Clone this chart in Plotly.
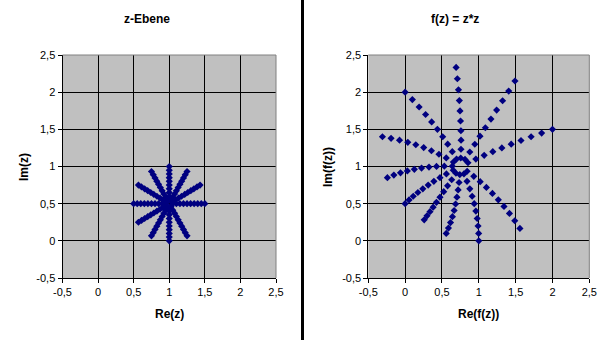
import plotly.graph_objects as go

# ---- data: points of the z-plane star (11 rays, 10 points each) ----
z_re = [1.05, 1.1, 1.15, 1.2, 1.25, 1.3, 1.35, 1.4, 1.45, 1.5,
        1.043, 1.087, 1.130, 1.173, 1.217, 1.260, 1.303, 1.346, 1.390, 1.433,
        1.025, 1.05, 1.075, 1.1, 1.125, 1.15, 1.175, 1.2, 1.225, 1.25,
        1.0, 1.0, 1.0, 1.0, 1.0, 1.0, 1.0, 1.0, 1.0, 1.0,
        0.975, 0.95, 0.925, 0.9, 0.875, 0.85, 0.825, 0.8, 0.775, 0.75,
        0.957, 0.913, 0.870, 0.827, 0.783, 0.740, 0.697, 0.654, 0.610, 0.567,
        0.95, 0.9, 0.85, 0.8, 0.75, 0.7, 0.65, 0.6, 0.55, 0.5,
        0.957, 0.913, 0.870, 0.827, 0.783, 0.740, 0.697, 0.654, 0.610, 0.567,
        0.975, 0.95, 0.925, 0.9, 0.875, 0.85, 0.825, 0.8, 0.775, 0.75,
        1.0, 1.0, 1.0, 1.0, 1.0, 1.0, 1.0, 1.0, 1.0, 1.0,
        1.025, 1.05, 1.075, 1.1, 1.125, 1.15, 1.175, 1.2, 1.225, 1.25]
z_im = [0.5, 0.5, 0.5, 0.5, 0.5, 0.5, 0.5, 0.5, 0.5, 0.5,
        0.525, 0.55, 0.575, 0.6, 0.625, 0.65, 0.675, 0.7, 0.725, 0.75,
        0.543, 0.587, 0.630, 0.673, 0.717, 0.760, 0.803, 0.846, 0.890, 0.933,
        0.55, 0.6, 0.65, 0.7, 0.75, 0.8, 0.85, 0.9, 0.95, 1.0,
        0.543, 0.587, 0.630, 0.673, 0.717, 0.760, 0.803, 0.846, 0.890, 0.933,
        0.525, 0.55, 0.575, 0.6, 0.625, 0.65, 0.675, 0.7, 0.725, 0.75,
        0.5, 0.5, 0.5, 0.5, 0.5, 0.5, 0.5, 0.5, 0.5, 0.5,
        0.475, 0.45, 0.425, 0.4, 0.375, 0.35, 0.325, 0.3, 0.275, 0.25,
        0.457, 0.413, 0.370, 0.327, 0.283, 0.240, 0.197, 0.154, 0.110, 0.067,
        0.45, 0.4, 0.35, 0.3, 0.25, 0.2, 0.15, 0.1, 0.05, 0.0,
        0.457, 0.413, 0.370, 0.327, 0.283, 0.240, 0.197, 0.154, 0.110, 0.067]

# ---- data: image points f(z) = z*z ----
w_re = [0.853, 0.96, 1.073, 1.19, 1.313, 1.44, 1.573, 1.71, 1.853, 2.0,
        0.813, 0.878, 0.946, 1.016, 1.089, 1.165, 1.242, 1.323, 1.406, 1.491,
        0.755, 0.758, 0.759, 0.757, 0.752, 0.745, 0.736, 0.724, 0.709, 0.692,
        0.698, 0.64, 0.578, 0.51, 0.438, 0.36, 0.278, 0.19, 0.098, 0.0,
        0.655, 0.558, 0.459, 0.357, 0.252, 0.145, 0.036, -0.076, -0.191, -0.308,
        0.640, 0.532, 0.426, 0.324, 0.223, 0.125, 0.030, -0.063, -0.153, -0.241,
        0.653, 0.56, 0.473, 0.39, 0.313, 0.24, 0.173, 0.11, 0.053, 0.0,
        0.690, 0.632, 0.576, 0.524, 0.473, 0.425, 0.380, 0.337, 0.297, 0.259,
        0.742, 0.732, 0.719, 0.703, 0.685, 0.665, 0.642, 0.616, 0.588, 0.558,
        0.798, 0.84, 0.878, 0.91, 0.938, 0.96, 0.978, 0.99, 0.998, 1.0,
        0.842, 0.932, 1.019, 1.103, 1.185, 1.265, 1.342, 1.416, 1.488, 1.558]
w_im = [1.05, 1.1, 1.15, 1.2, 1.25, 1.3, 1.35, 1.4, 1.45, 1.5,
        1.095, 1.195, 1.299, 1.408, 1.521, 1.638, 1.759, 1.885, 2.015, 2.150,
        1.114, 1.232, 1.354, 1.481, 1.612, 1.748, 1.887, 2.031, 2.180, 2.333,
        1.1, 1.2, 1.3, 1.4, 1.5, 1.6, 1.7, 1.8, 1.9, 2.0,
        1.059, 1.115, 1.165, 1.212, 1.254, 1.292, 1.325, 1.354, 1.379, 1.400,
        1.005, 1.005, 1.001, 0.992, 0.979, 0.962, 0.941, 0.915, 0.885, 0.850,
        0.95, 0.9, 0.85, 0.8, 0.75, 0.7, 0.65, 0.6, 0.55, 0.5,
        0.909, 0.822, 0.740, 0.661, 0.588, 0.518, 0.453, 0.392, 0.336, 0.283,
        0.891, 0.785, 0.685, 0.588, 0.496, 0.408, 0.325, 0.246, 0.171, 0.100,
        0.9, 0.8, 0.7, 0.6, 0.5, 0.4, 0.3, 0.2, 0.1, 0.0,
        0.936, 0.868, 0.796, 0.719, 0.638, 0.552, 0.463, 0.369, 0.270, 0.167]

tick_vals = [-0.5, 0, 0.5, 1, 1.5, 2, 2.5]
tick_text = ["-0,5", "0", "0,5", "1", "1,5", "2", "2,5"]

titles = ["z-Ebene", "f(z) = z*z"]
x_titles = ["Re(z)", "Re(f(z))"]
y_titles = ["Im(z)", "Im(f(z))"]

W, H = 614, 340
FONT = "Liberation Sans, Arial, sans-serif"
NAVY = "#000080"

fig = go.Figure()
mk = dict(symbol="diamond", size=5.5, color=NAVY, line=dict(width=0))
fig.add_trace(go.Scatter(x=z_re, y=z_im, mode="markers", marker=mk,
                         xaxis="x", yaxis="y", showlegend=False, hoverinfo="skip"))
fig.add_trace(go.Scatter(x=w_re, y=w_im, mode="markers", marker=mk,
                         xaxis="x2", yaxis="y2", showlegend=False, hoverinfo="skip"))

def ax(domain, anchor):
    return dict(domain=domain, anchor=anchor, range=[-0.5, 2.5], automargin=False,
                tickmode="array", tickvals=tick_vals, ticktext=tick_text,
                showgrid=True, gridcolor="black", gridwidth=1,
                zeroline=False, showline=True, linecolor="black", linewidth=1,
                ticks="outside", ticklen=4, tickcolor="black", tickwidth=1,
                tickfont=dict(family=FONT, size=11, color="black"),
                fixedrange=True)

yd = [1 - 278 / H, 1 - 55 / H]
xd1 = [62.5 / W, 276 / W]
xd2 = [368.3 / W, 589.3 / W]

fig.update_layout(
    width=W, height=H, margin=dict(l=0, r=0, t=0, b=0, autoexpand=False),
    paper_bgcolor="white", plot_bgcolor="#C0C0C0",
    font=dict(family=FONT, size=11, color="black"),
    xaxis=ax(xd1, "y"), yaxis=ax(yd, "x"),
    xaxis2=ax(xd2, "y2"), yaxis2=ax(yd, "x2"),
)

shapes = []
for xr, yr in (("x domain", "y domain"), ("x2 domain", "y2 domain")):
    shapes.append(dict(type="line", xref=xr, yref=yr, x0=0, x1=1, y0=1, y1=1,
                       line=dict(color="#808080", width=1), layer="above"))
    shapes.append(dict(type="line", xref=xr, yref=yr, x0=1, x1=1, y0=0, y1=1,
                       line=dict(color="#808080", width=1), layer="above"))
shapes.append(dict(type="line", xref="paper", yref="paper",
                   x0=302.5 / W, x1=302.5 / W, y0=0, y1=1,
                   line=dict(color="black", width=3)))
fig.update_layout(shapes=shapes)

def label(text, cx, cy, angle=0):
    return dict(text="<b>%s</b>" % text, x=cx / W, y=1 - cy / H,
                xref="paper", yref="paper", xanchor="center", yanchor="middle",
                showarrow=False, textangle=angle,
                font=dict(family=FONT, size=12, color="black"))

ann = []
for t, cx in zip(titles, (147, 455)):
    ann.append(label(t, cx, 19))
for t, cx in zip(x_titles, (169.5, 478)):
    ann.append(label(t, cx, 314))
for t, cx in zip(y_titles, (24, 328)):
    ann.append(label(t, cx, 167, -90))
fig.update_layout(annotations=ann)

fig.write_html("out.html", config={"displayModeBar": False})
